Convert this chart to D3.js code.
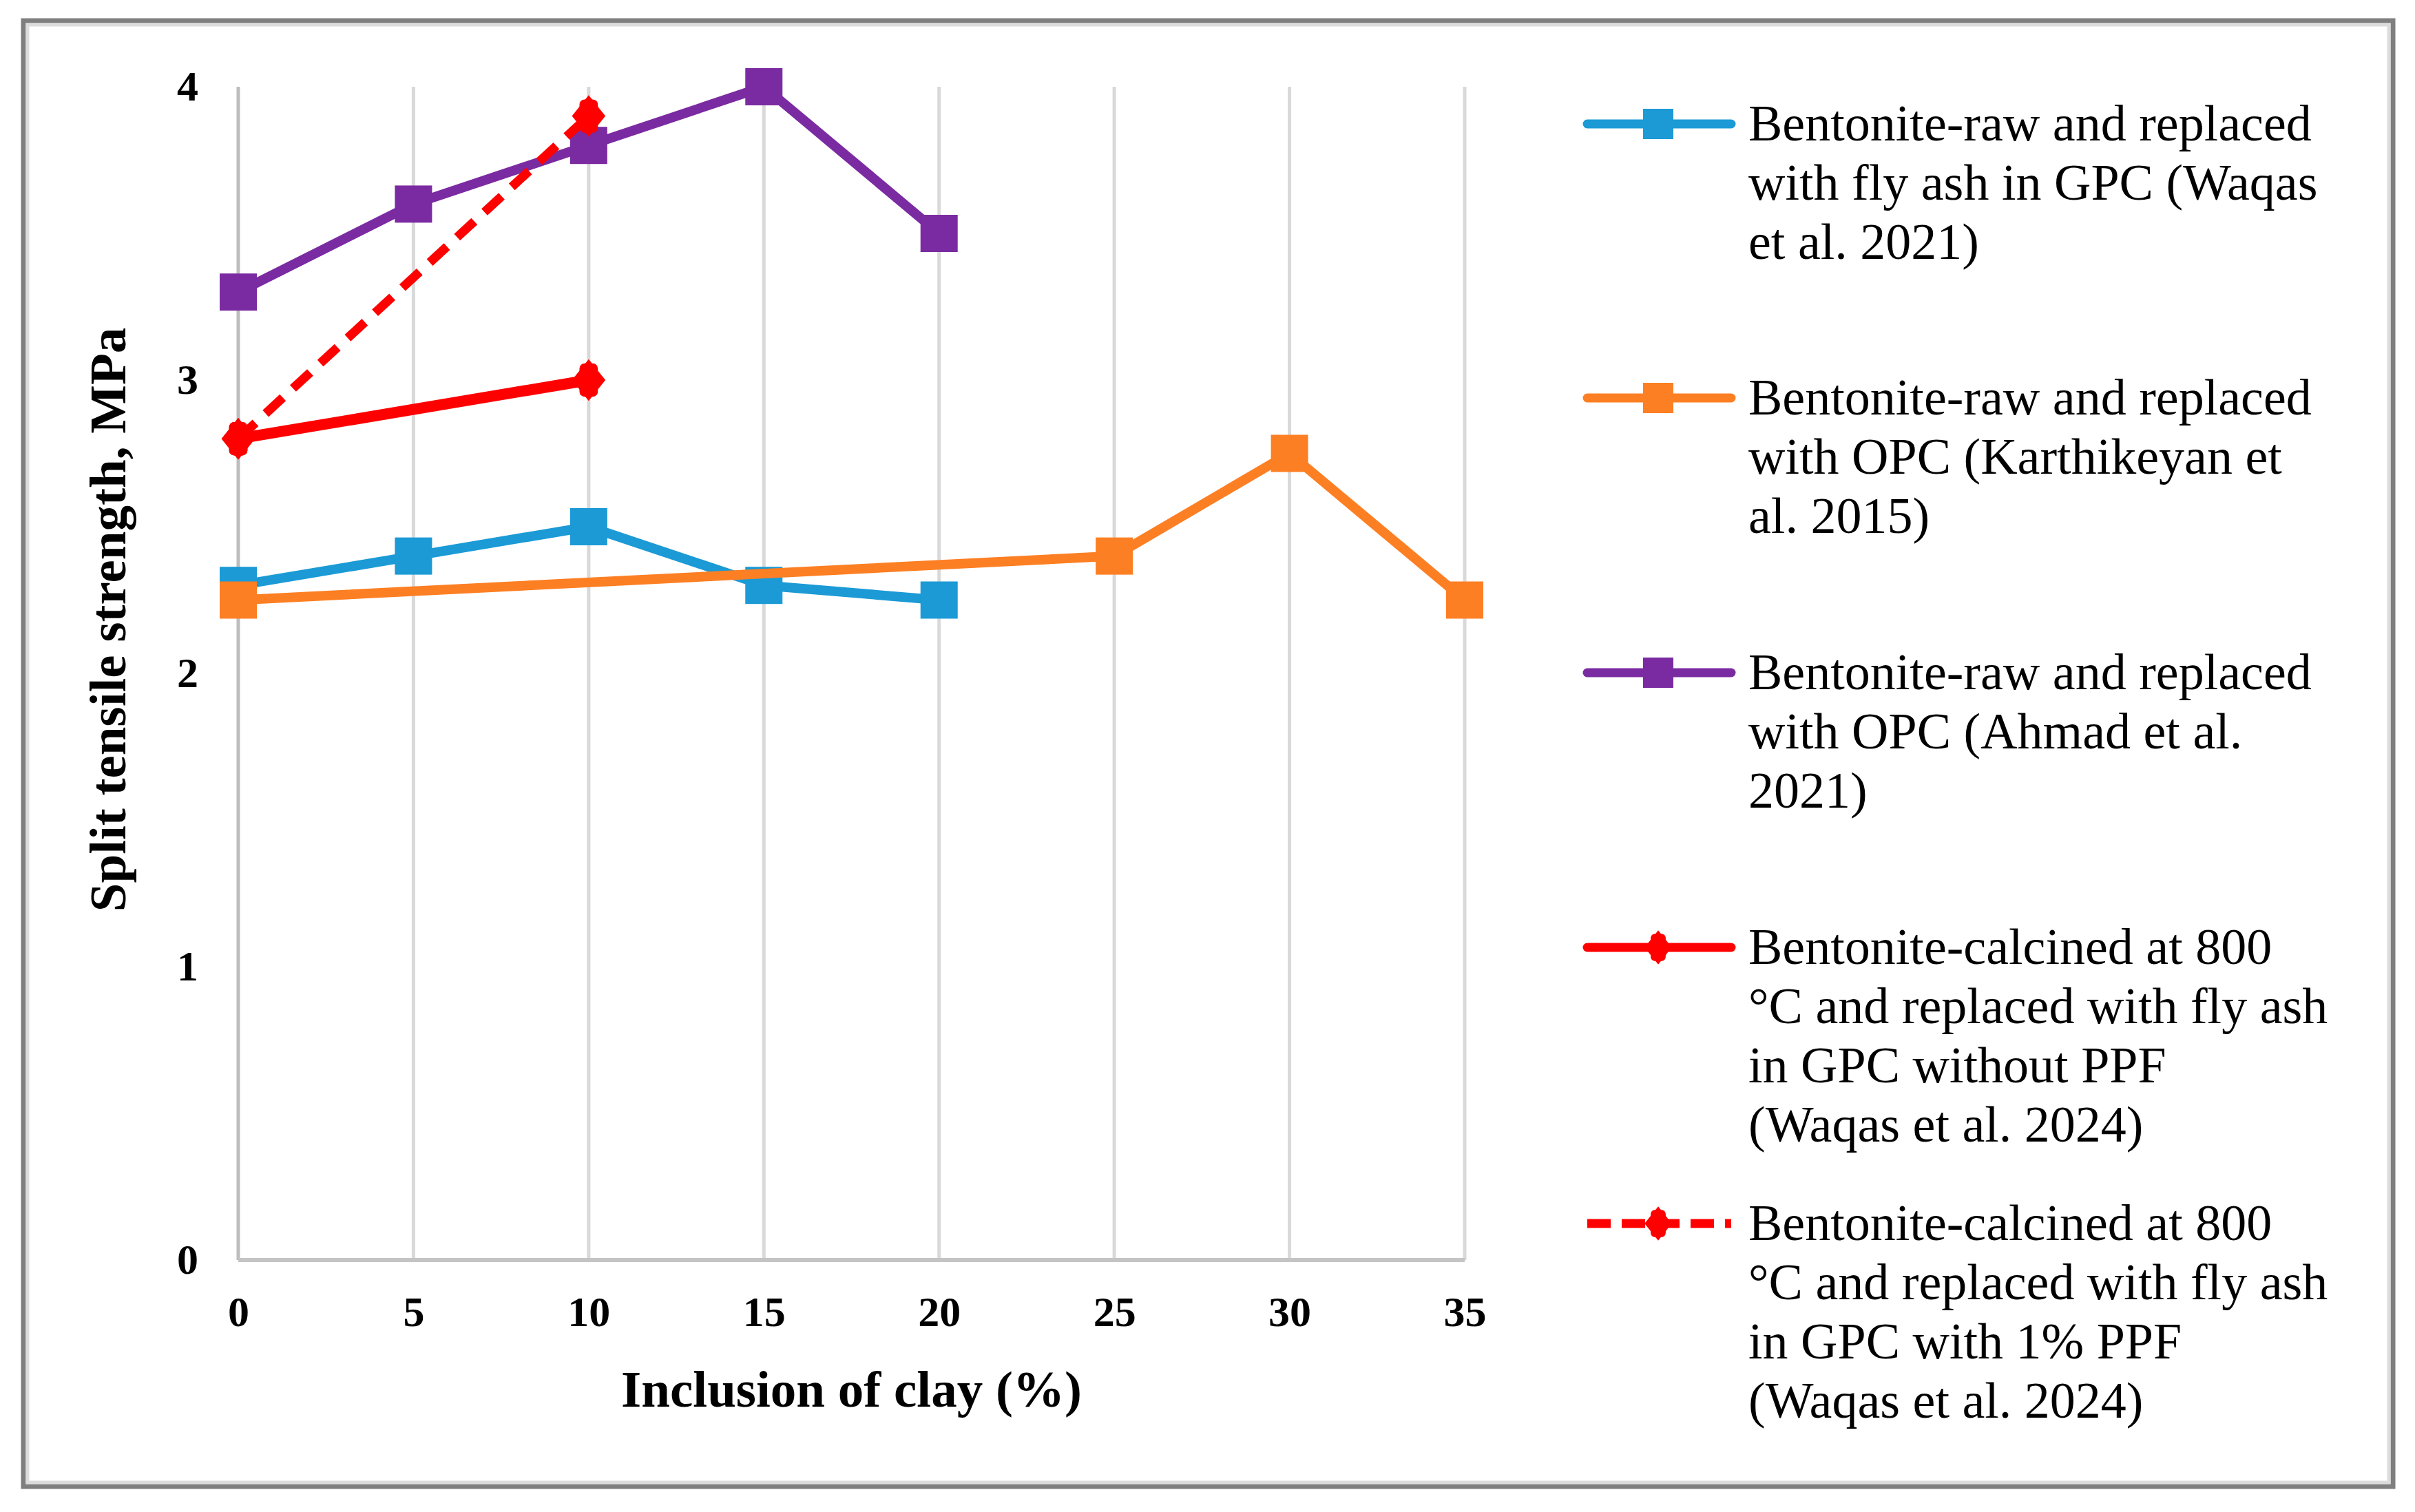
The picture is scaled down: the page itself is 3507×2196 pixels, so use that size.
<!DOCTYPE html>
<html>
<head>
<meta charset="utf-8">
<script src="https://cdn.jsdelivr.net/npm/d3@7"></script>
<style>
  body { margin: 0; background: #fff; }
  text { font-family: "Liberation Serif", "Times New Roman", serif; }
</style>
</head>
<body>
<svg id="chart"></svg>
<script>
// Chart data
const xTicks = [0, 5, 10, 15, 20, 25, 30, 35];
const yTicks = [0, 1, 2, 3, 4];

const clayWaqas2021 = [0, 5, 10, 15, 20];
const strengthWaqas2021 = [2.3, 2.4, 2.5, 2.3, 2.25];
const clayKarthikeyan2015 = [0, 25, 30, 35];
const strengthKarthikeyan2015 = [2.25, 2.4, 2.75, 2.25];
const clayAhmad2021 = [0, 5, 10, 15, 20];
const strengthAhmad2021 = [3.3, 3.6, 3.8, 4.0, 3.5];
const clayWaqas2024 = [0, 10];
const strengthWithoutPPF = [2.8, 3.0];
const strengthWithPPF = [2.8, 3.9];

const legendLabels = [
  ["Bentonite-raw and replaced", "with fly ash in GPC (Waqas", "et al. 2021)"],
  ["Bentonite-raw and replaced", "with OPC (Karthikeyan et", "al. 2015)"],
  ["Bentonite-raw and replaced", "with OPC (Ahmad et al.", "2021)"],
  ["Bentonite-calcined at 800", "°C and replaced with fly ash", "in GPC without PPF", "(Waqas et al. 2024)"],
  ["Bentonite-calcined at 800", "°C and replaced with fly ash", "in GPC with 1% PPF", "(Waqas et al. 2024)"]
];

const W = 3507, H = 2196;
const plot = { left: 346, right: 2127, top: 126, bottom: 1830 };

const svg = d3.select("#chart")
  .attr("width", W)
  .attr("height", H);

svg.append("rect").attr("width", W).attr("height", H).attr("fill", "#fff");

// Outer frame (dark border with light inner edge)
svg.append("rect")
  .attr("x", 34).attr("y", 30)
  .attr("width", 3441).attr("height", 2129)
  .attr("fill", "none")
  .attr("stroke", "#7f7f7f")
  .attr("stroke-width", 7);
svg.append("rect")
  .attr("x", 40).attr("y", 36)
  .attr("width", 3429).attr("height", 2117)
  .attr("fill", "none")
  .attr("stroke", "#dcdcdc")
  .attr("stroke-width", 5);

const x = d3.scaleLinear().domain([0, 35]).range([plot.left, plot.right]);
const y = d3.scaleLinear().domain([0, 4]).range([plot.bottom, plot.top]);

// Vertical gridlines
svg.append("g")
  .selectAll("line")
  .data(xTicks)
  .enter().append("line")
  .attr("x1", d => x(d)).attr("x2", d => x(d))
  .attr("y1", y(4)).attr("y2", y(0))
  .attr("stroke", d => d === 0 ? "#bdbdbd" : "#d9d9d9")
  .attr("stroke-width", 5);

// Baseline
svg.append("line")
  .attr("x1", x(0)).attr("x2", x(35))
  .attr("y1", y(0)).attr("y2", y(0))
  .attr("stroke", "#c4c4c4")
  .attr("stroke-width", 6);

// Y axis (labels only)
const yAxis = svg.append("g")
  .attr("transform", `translate(${plot.left - 58},0)`)
  .call(d3.axisLeft(y).tickValues(yTicks).tickFormat(d3.format("d")).tickSize(0).tickPadding(0));
yAxis.select(".domain").remove();
yAxis.selectAll("text")
  .style("font-family", "Liberation Serif")
  .style("font-size", "62px")
  .style("font-weight", "bold")
  .attr("fill", "#000");

// X axis (labels only)
const xAxis = svg.append("g")
  .attr("transform", `translate(0,${plot.bottom + 52})`)
  .call(d3.axisBottom(x).tickValues(xTicks).tickFormat(d3.format("d")).tickSize(0).tickPadding(0));
xAxis.select(".domain").remove();
xAxis.selectAll("text")
  .style("font-family", "Liberation Serif")
  .style("font-size", "62px")
  .style("font-weight", "bold")
  .attr("fill", "#000");

// Axis titles
svg.append("text")
  .attr("x", (plot.left + plot.right) / 2)
  .attr("y", 2043)
  .attr("text-anchor", "middle")
  .style("font-size", "75px")
  .style("font-weight", "bold")
  .text("Inclusion of clay (%)");

svg.append("text")
  .attr("transform", "translate(182,900) rotate(-90)")
  .attr("text-anchor", "middle")
  .style("font-size", "75px")
  .style("font-weight", "bold")
  .text("Split tensile strength, MPa");

// Series
const series = [
  { xs: clayWaqas2021, ys: strengthWaqas2021, color: "#1b9ad6", marker: "square", dash: null, width: 14 },
  { xs: clayKarthikeyan2015, ys: strengthKarthikeyan2015, color: "#fd7f23", marker: "square", dash: null, width: 14 },
  { xs: clayAhmad2021, ys: strengthAhmad2021, color: "#7b2ba1", marker: "square", dash: null, width: 14 },
  { xs: clayWaqas2024, ys: strengthWithoutPPF, color: "#ff0000", marker: "diamond", dash: null, width: 16 },
  { xs: clayWaqas2024, ys: strengthWithPPF, color: "#ff0000", marker: "diamond", dash: "34,20", width: 13 }
];

const line = d3.line().x(d => x(d[0])).y(d => y(d[1]));

function drawMarker(g, cx, cy, type, color, size) {
  if (type === "square") {
    g.append("rect")
      .attr("x", cx - size / 2).attr("y", cy - size / 2)
      .attr("width", size).attr("height", size)
      .attr("fill", color);
  } else {
    // diamond with a small cross, as the red markers look in the figure
    const hw = size * 0.45, hh = size * 0.56;
    g.append("path")
      .attr("d", `M${cx},${cy - hh}L${cx + hw},${cy}L${cx},${cy + hh}L${cx - hw},${cy}Z`)
      .attr("fill", color);
    g.append("rect")
      .attr("x", cx - hw * 0.55).attr("y", cy - hh * 0.8)
      .attr("width", hw * 1.1).attr("height", hh * 1.6)
      .attr("rx", hw * 0.3)
      .attr("fill", color);
  }
}

series.forEach(s => {
  const pts = s.xs.map((v, i) => [v, s.ys[i]]);
  const g = svg.append("g");
  g.append("path")
    .datum(pts)
    .attr("d", line)
    .attr("fill", "none")
    .attr("stroke", s.color)
    .attr("stroke-width", s.width)
    .attr("stroke-linejoin", "round")
    .attr("stroke-dasharray", s.dash);
  pts.forEach(p => drawMarker(g, x(p[0]), y(p[1]), s.marker, s.color, 54));
});

// Legend
const legendY = [180, 578, 977, 1376, 1777];
const legend = svg.append("g");
series.forEach((s, i) => {
  const ly = legendY[i];
  legend.append("line")
    .attr("x1", 2305).attr("x2", 2514)
    .attr("y1", ly).attr("y2", ly)
    .attr("stroke", s.color)
    .attr("stroke-width", 13)
    .attr("stroke-linecap", s.dash ? "butt" : "round")
    .attr("stroke-dasharray", s.dash ? "34,16" : null);
  drawMarker(legend, 2408, ly, s.marker, s.color, 44);
  const t = legend.append("text")
    .attr("x", 2539)
    .attr("y", ly + 24)
    .style("font-size", "74px")
    .attr("fill", "#000");
  legendLabels[i].forEach((txt, j) => {
    t.append("tspan")
      .attr("x", 2539)
      .attr("dy", j === 0 ? 0 : 86)
      .text(txt);
  });
});
</script>
</body>
</html>
